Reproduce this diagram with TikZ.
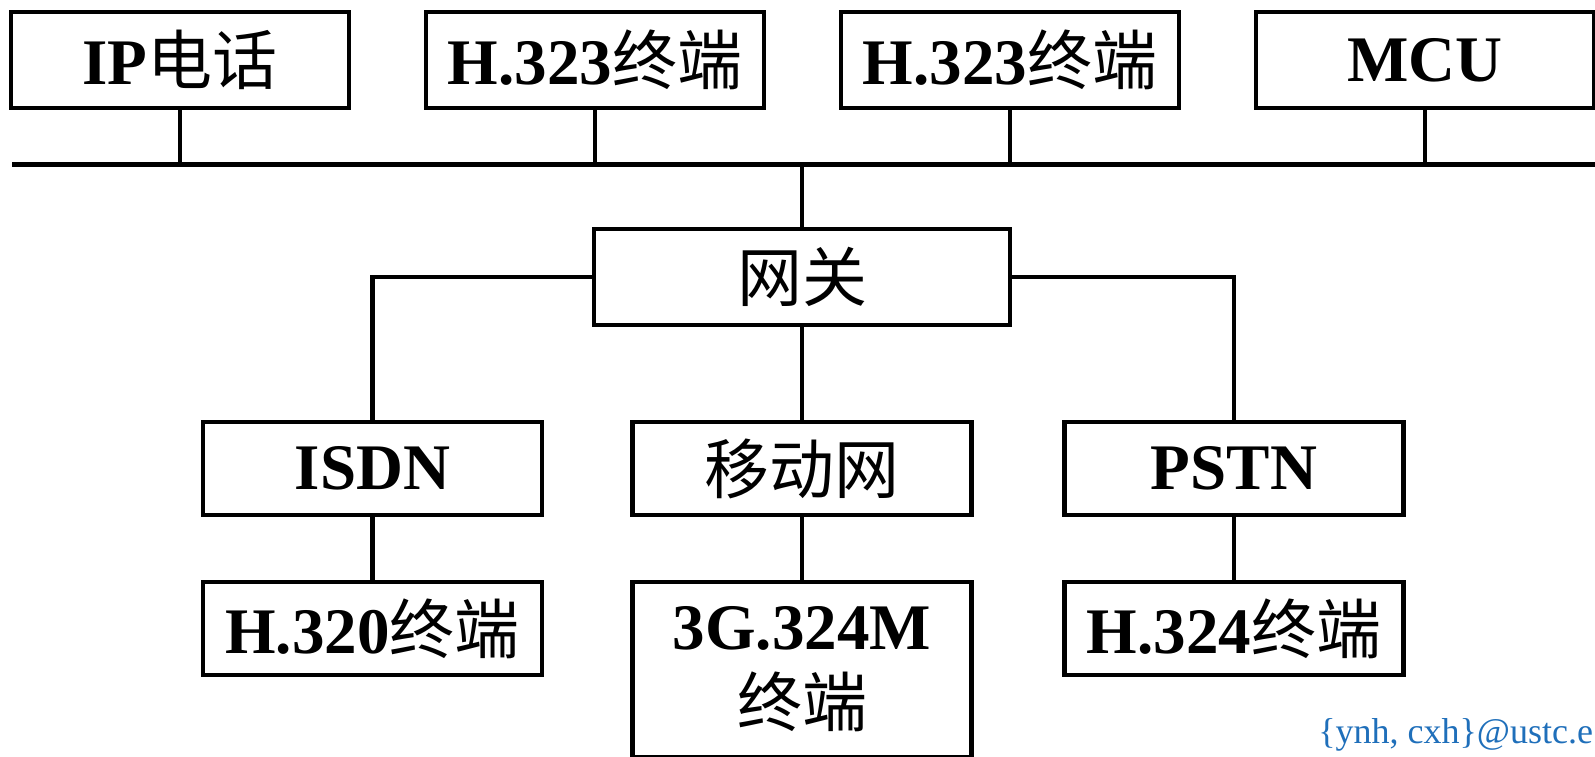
\documentclass[tikz,border=0pt]{standalone}
\usepackage{fontspec}
\setmainfont{Liberation Serif}
\newfontfamily\cjk{Noto Sans CJK SC}
\usetikzlibrary{positioning}
\definecolor{markblue}{RGB}{31,111,186}
\newcommand{\zh}[1]{{\cjk\mdseries #1}}

\begin{document}
\begin{tikzpicture}[x=1pt,y=1pt,node distance=207.5pt,on grid]
    \tikzstyle{box}=[shape=rectangle,draw,line width=2.25pt,inner sep=0pt,minimum width=169pt,minimum height=48pt,font=\fontsize{32.5}{38.5}\selectfont\bfseries,align=center]
    \tikzstyle{wire}=[draw,line width=2.25pt]
    \clip (0,0) rectangle (797.5,-378);

    % top row, hanging on the bus
    \node[box] (IP) at (90,-30) {IP\zh{电话}};
    \node[box,right=of IP] (T1) {H.323\zh{终端}};
    \node[box,right=of T1] (T2) {H.323\zh{终端}};
    \node[box,right=of T2] (MCU) {MCU};

    \coordinate (busL) at (6,-82.25);
    \coordinate (busR) at (797.5,-82.25);

    \node[box,minimum width=208pt] (GW) at (401,-138.5) {\zh{网关}};

    % networks behind the gateway
    \node[box,minimum width=169.5pt,minimum height=46.5pt] (ISDN) at (186.25,-234.25) {ISDN};
    \node[box,minimum width=169.5pt,minimum height=46.5pt] (MOB) at (401,-234.25) {\zh{移动网}};
    \node[box,minimum width=169.5pt,minimum height=46.5pt] (PSTN) at (617,-234.25) {PSTN};

	\node[box,minimum width=169.5pt,minimum height=46.5pt] (H320) at (186.25,-314.25) {H.320\zh{终端}};
	\node[box,minimum width=169.5pt,minimum height=87.5pt] (G3) at (401,-334.75) {3G.324M\\\zh{终端}};
	\node[box,minimum width=169.5pt,minimum height=46.5pt] (H324) at (617,-314.25) {H.324\zh{终端}};

    \path[wire]
    (busL) -- (busR)
    (IP) -- (IP |- busL)
    (T1) -- (T1 |- busL)
    (T2) -- (T2 |- busL)
    (MCU) -- (MCU |- busL)
    (GW) -- (GW |- busL)
    (GW.west) -| (ISDN)
    (GW.east) -| (PSTN)
    (GW) -- (MOB)
	(ISDN) -- (H320)
	(MOB) -- (G3)
	(PSTN) -- (H324)
    ;

	\node[anchor=base west,inner sep=0pt,text=markblue,font=\fontsize{18}{20}\selectfont] (mark) at (659,-371.5) {\{ynh, cxh\}@ustc.e};

  \end{tikzpicture}
\end{document}
